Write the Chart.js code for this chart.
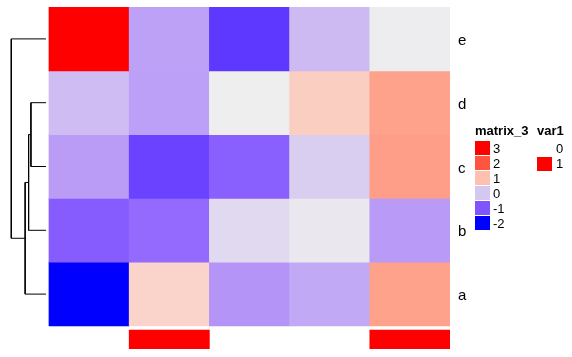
<!DOCTYPE html>
<html>
<head>
<meta charset="utf-8">
<script src="https://cdn.jsdelivr.net/npm/chart.js@4.4.1/dist/chart.umd.min.js"></script>
<style>
html,body{margin:0;padding:0;background:#fff;}
#wrap{width:572px;height:357px;position:relative;}
</style>
</head>
<body>
<div id="wrap"><canvas id="c" width="572" height="357"></canvas></div>
<script>
// ---- data ----
const rowLabels = ['e', 'd', 'c', 'b', 'a'];          // top to bottom
const rowE = [3.00, -0.34, -1.45, -0.12, 0.48];
const rowD = [-0.10, -0.36, 0.50, 0.85, 1.31];
const rowC = [-0.38, -1.30, -0.91, 0.08, 1.35];
const rowB = [-0.94, -0.82, 0.23, 0.41, -0.39];
const rowA = [-2.00, 0.79, -0.45, -0.27, 1.31];
const var1 = [0, 1, 0, 0, 1];
// dendrogram merges: [d,c] -> n1, [n1,b] -> n2, [n2,a] -> n3, [e,n3] -> root
const mergeHeights = [2.6, 3.0, 3.6, 6.0];
const legendBreaks = [3, 2, 1, 0, -1, -2];
const var1Levels = ['0', '1'];

// ---- colour mapping (LAB interpolation between anchor colours) ----
const rampBreaks = [-2, -1, 0, 0.5, 1, 2, 3];
const rampColors = ['#0000FF', '#7F55FF', '#D5C8F0', '#EEEEEE', '#FFC0B0', '#FF5540', '#FF0000'];
function hexToRgb(h){return [1,3,5].map(i=>parseInt(h.substr(i,2),16));}
function toLin(c){c/=255;return c<=0.04045?c/12.92:Math.pow((c+0.055)/1.055,2.4);}
function fromLin(c){const v=c<=0.0031308?12.92*c:1.055*Math.pow(c,1/2.4)-0.055;return Math.max(0,Math.min(255,Math.round(v*255)));}
function rgbToLab(rgb){
  const [r,g,b]=rgb.map(toLin);
  const X=(0.4124*r+0.3576*g+0.1805*b)/0.95047;
  const Y=(0.2126*r+0.7152*g+0.0722*b);
  const Z=(0.0193*r+0.1192*g+0.9505*b)/1.08883;
  const f=t=>t>0.008856?Math.cbrt(t):7.787*t+16/116;
  const fx=f(X),fy=f(Y),fz=f(Z);
  return [116*fy-16,500*(fx-fy),200*(fy-fz)];
}
function labToRgb(lab){
  const [L,a,b]=lab;
  const fy=(L+16)/116, fx=fy+a/500, fz=fy-b/200;
  const inv=t=>{const t3=t*t*t;return t3>0.008856?t3:(t-16/116)/7.787;};
  const X=inv(fx)*0.95047,Y=inv(fy),Z=inv(fz)*1.08883;
  const r=3.2406*X-1.5372*Y-0.4986*Z;
  const g=-0.9689*X+1.8758*Y+0.0415*Z;
  const bb=0.0557*X-0.2040*Y+1.0570*Z;
  return [r,g,bb].map(fromLin);
}
const rampLab = rampColors.map(c=>rgbToLab(hexToRgb(c)));
function colorFor(v){
  const n = rampBreaks.length;
  v=Math.max(rampBreaks[0],Math.min(rampBreaks[n-1],v));
  let k = 0;
  while (k < n - 2 && v > rampBreaks[k+1]) k++;
  const t=(v-rampBreaks[k])/(rampBreaks[k+1]-rampBreaks[k]);
  const A=rampLab[k],B=rampLab[k+1];
  const rgb=labToRgb([0,1,2].map(i=>A[i]+(B[i]-A[i])*t));
  return 'rgb('+rgb.join(',')+')';
}

// ---- build datasets ----
const rows = [rowE, rowD, rowC, rowB, rowA];
const nRows = rows.length;
const datasets = [];
rows.forEach((vals, ri) => {
  const y0 = nRows - 1 - ri;
  datasets.push({
    type: 'bar', xAxisID: 'x', yAxisID: 'y', grouped: false,
    data: vals.map((v, ci) => ({x: ci + 0.5, y: [y0, y0 + 1]})),
    backgroundColor: vals.map(colorFor),
    borderWidth: 0, barPercentage: 1, categoryPercentage: 1
  });
});
// annotation row
datasets.push({
  type: 'bar', xAxisID: 'x', yAxisID: 'y', grouped: false,
  data: var1.map((v, ci) => ({x: ci + 0.5, y: [-0.36, -0.062]})),
  backgroundColor: var1.map(v => v ? '#FF0000' : 'rgba(255,255,255,0)'),
  borderWidth: 0, barPercentage: 1, categoryPercentage: 1
});
// dendrogram
const leafY = {}; rowLabels.forEach((r, i) => leafY[r] = nRows - 1 - i + 0.5);
const nodes = {};
['e','d','c','b','a'].forEach(r => nodes[r] = {h: 0, y: leafY[r]});
const merges = [['d','c','n1'], ['n1','b','n2'], ['n2','a','n3'], ['e','n3','root']];
merges.forEach((m, i) => {
  const L = nodes[m[0]], R = nodes[m[1]], h = mergeHeights[i];
  nodes[m[2]] = {h: h, y: (L.y + R.y) / 2};
  datasets.push({
    type: 'line', xAxisID: 'xd', yAxisID: 'y',
    data: [{x: L.h, y: L.y}, {x: h, y: L.y}, {x: h, y: R.y}, {x: R.h, y: R.y}],
    borderColor: '#000', borderWidth: 1, pointRadius: 0, tension: 0, fill: false
  });
});

// ---- legend plugin ----
const legendPlugin = {
  id: 'hmLegend',
  afterDraw(chart) {
    const ctx = chart.ctx;
    ctx.save();
    ctx.fillStyle = '#000';
    ctx.font = 'bold 13px "Liberation Sans", Arial, sans-serif';
    ctx.textBaseline = 'alphabetic';
    ctx.textAlign = 'left';
    ctx.fillText('matrix_3', 475, 135);
    ctx.fillText('var1', 537, 135);
    ctx.font = '13px "Liberation Sans", Arial, sans-serif';
    ctx.textBaseline = 'middle';
    const top = 141, bh = 15, bw = 15;
    legendBreaks.forEach((v, i) => {
      const y = top + i * bh;
      ctx.fillStyle = colorFor(v);
      ctx.fillRect(475, y, bw, bh - 1);
      ctx.fillStyle = '#000';
      ctx.fillText(String(v), 493, y + bh / 2 + 1);
    });
    var1Levels.forEach((lv, i) => {
      const y = top + i * bh;
      ctx.fillStyle = lv === '1' ? '#FF0000' : '#FFFFFF';
      ctx.fillRect(537, y + 1, bw, bh - 1);
      ctx.fillStyle = '#000';
      ctx.fillText(lv, 556, y + bh / 2 + 1);
    });
    ctx.restore();
  }
};

new Chart(document.getElementById('c'), {
  data: { datasets: datasets },
  options: {
    responsive: false, animation: false, devicePixelRatio: 1,
    layout: { padding: { left: 10, top: 7, bottom: 8, right: 0 } },
    plugins: { legend: { display: false }, tooltip: { enabled: false } },
    scales: {
      x: { type: 'linear', min: -0.486, max: 5, display: false, offset: false },
      xd: { type: 'linear', reverse: true, min: -69.9, max: 6.22, display: false, offset: false },
      y: {
        type: 'linear', position: 'right', min: -0.3605, max: 5, offset: false,
        grid: { display: false, drawTicks: false }, border: { display: false },
        afterBuildTicks: (axis) => { axis.ticks = rowLabels.map((r, i) => ({value: nRows - 1 - i + 0.5})); },
        afterFit: (axis) => { axis.width = 122; axis.paddingTop = 0; axis.paddingBottom = 0; },
        ticks: {
          padding: 8, color: '#000', labelOffset: 2,
          font: { family: '"Liberation Sans", Arial, sans-serif', size: 15 },
          callback: (v) => { const i = nRows - 1 - Math.floor(v); return rowLabels[i]; }
        }
      }
    }
  },
  plugins: [legendPlugin]
});
</script>
</body>
</html>
